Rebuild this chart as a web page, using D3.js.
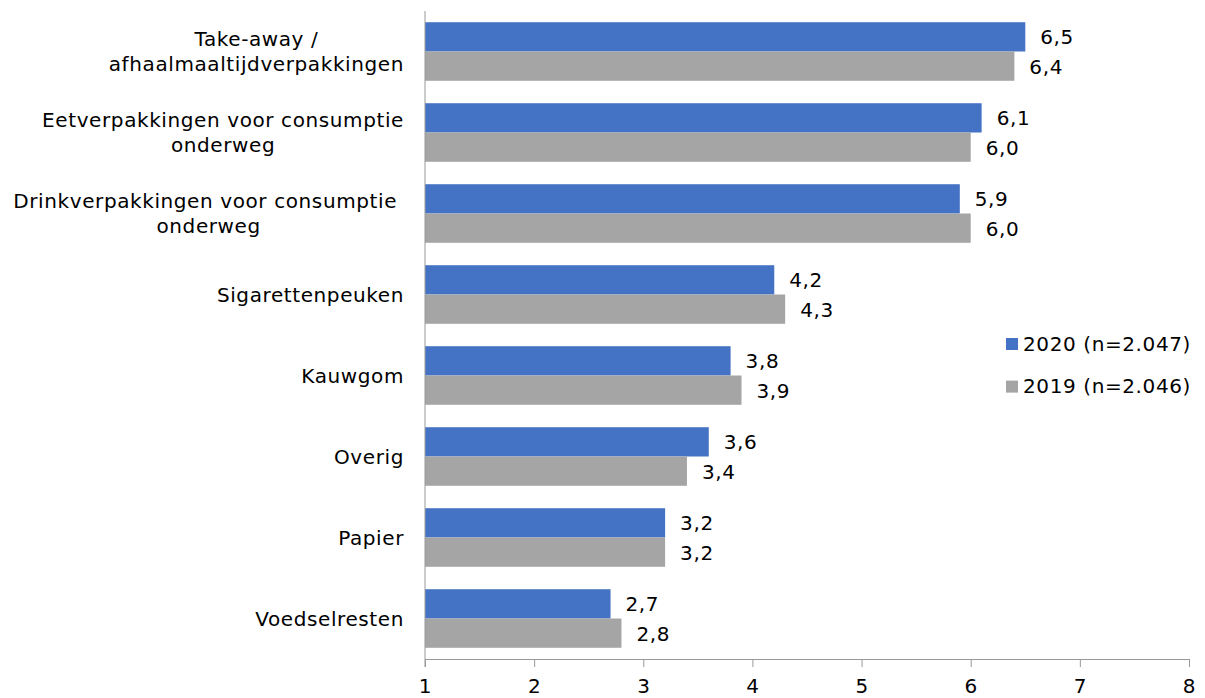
<!DOCTYPE html>
<html>
<head>
<meta charset="utf-8">
<script src="https://cdn.jsdelivr.net/npm/d3@7"></script>
<style>
  body { margin: 0; background: #fff; }
  text { font-family: Verdana, "DejaVu Sans", sans-serif; fill: #000; letter-spacing: 0.6px; }
</style>
</head>
<body>
<script>
// data
var categories = [
  ['Take-away /', 'afhaalmaaltijdverpakkingen'],
  ['Eetverpakkingen voor consumptie', 'onderweg'],
  ['Drinkverpakkingen voor consumptie\u00a0', 'onderweg'],
  ['Sigarettenpeuken'],
  ['Kauwgom'],
  ['Overig'],
  ['Papier'],
  ['Voedselresten']
];
var series = ['2020 (n=2.047)', '2019 (n=2.046)'];
var values2020 = [6.5, 6.1, 5.9, 4.2, 3.8, 3.6, 3.2, 2.7];
var values2019 = [6.4, 6.0, 6.0, 4.3, 3.9, 3.4, 3.2, 2.8];
var xTicks = [1, 2, 3, 4, 5, 6, 7, 8];
var colors = ['#4472C4', '#A5A5A5'];

var W = 1205, H = 698;
var fs = 20;

var svg = d3.select('body').append('svg')
    .attr('width', W)
    .attr('height', H);

var x = d3.scaleLinear().domain([1, 8]).range([425, 1189]);
var y = d3.scaleBand()
    .domain(d3.range(categories.length))
    .range([11, 659])
    .paddingInner(0.277)
    .paddingOuter(0.1385);
var ySub = d3.scaleBand().domain([0, 1]).range([0, y.bandwidth()]);

var fmt = function(v) { return d3.format('.1f')(v).replace('.', ','); };

// bars
var rows = categories.map(function(c, i) {
  return [values2020[i], values2019[i]];
});

var groups = svg.selectAll('g.row')
    .data(rows)
    .enter().append('g')
    .attr('class', 'row')
    .attr('transform', function(d, i) { return 'translate(0,' + y(i) + ')'; });

groups.selectAll('rect')
    .data(function(d) { return d; })
    .enter().append('rect')
    .attr('x', x(1))
    .attr('y', function(d, j) { return ySub(j); })
    .attr('width', function(d) { return x(d) - x(1); })
    .attr('height', ySub.bandwidth())
    .attr('fill', function(d, j) { return colors[j]; });

groups.selectAll('text.val')
    .data(function(d) { return d; })
    .enter().append('text')
    .attr('class', 'val')
    .attr('x', function(d) { return x(d) + 15; })
    .attr('y', function(d, j) { return ySub(j) + ySub.bandwidth() / 2 + 7.5; })
    .attr('font-size', fs)
    .text(fmt);

// x axis
var xAxis = d3.axisBottom(x)
    .tickValues(xTicks)
    .tickFormat(d3.format('d'))
    .tickSize(8)
    .tickSizeOuter(0);

var gx = svg.append('g')
    .attr('transform', 'translate(0,659)')
    .call(xAxis);
gx.select('.domain').attr('stroke', '#999');
gx.selectAll('.tick line').attr('stroke', '#999');
gx.selectAll('.tick text')
    .attr('font-size', fs)
    .attr('font-family', 'Verdana, "DejaVu Sans", sans-serif')
    .attr('fill', '#000')
    .attr('dy', null)
    .attr('y', 34);

// category axis line
svg.append('line')
    .attr('x1', x(1)).attr('x2', x(1))
    .attr('y1', 11).attr('y2', 667)
    .attr('stroke', '#999');

// category labels: lines centred, block right-aligned
var lineH = 25;
categories.forEach(function(lines, i) {
  var cy = y(i) + y.bandwidth() / 2;
  var t = svg.append('text')
      .attr('font-size', fs)
      .attr('text-anchor', 'middle')
      .style('white-space', 'pre');
  var spans = lines.map(function(s, k) {
    return t.append('tspan')
        .attr('y', cy + (k - (lines.length - 1) / 2) * lineH + 7)
        .text(s);
  });
  var maxW = d3.max(spans, function(s) { return s.node().getComputedTextLength(); });
  spans.forEach(function(s) { s.attr('x', 404 - maxW / 2); });
});

// legend
var legend = svg.selectAll('g.legend')
    .data(series)
    .enter().append('g')
    .attr('class', 'legend')
    .attr('transform', function(d, i) { return 'translate(1006,' + (338 + i * 42.6) + ')'; });

legend.append('rect')
    .attr('width', 12)
    .attr('height', 12)
    .attr('fill', function(d, i) { return colors[i]; });

legend.append('text')
    .attr('x', 17)
    .attr('y', 12.5)
    .attr('font-size', fs)
    .text(function(d) { return d; });
</script>
</body>
</html>
